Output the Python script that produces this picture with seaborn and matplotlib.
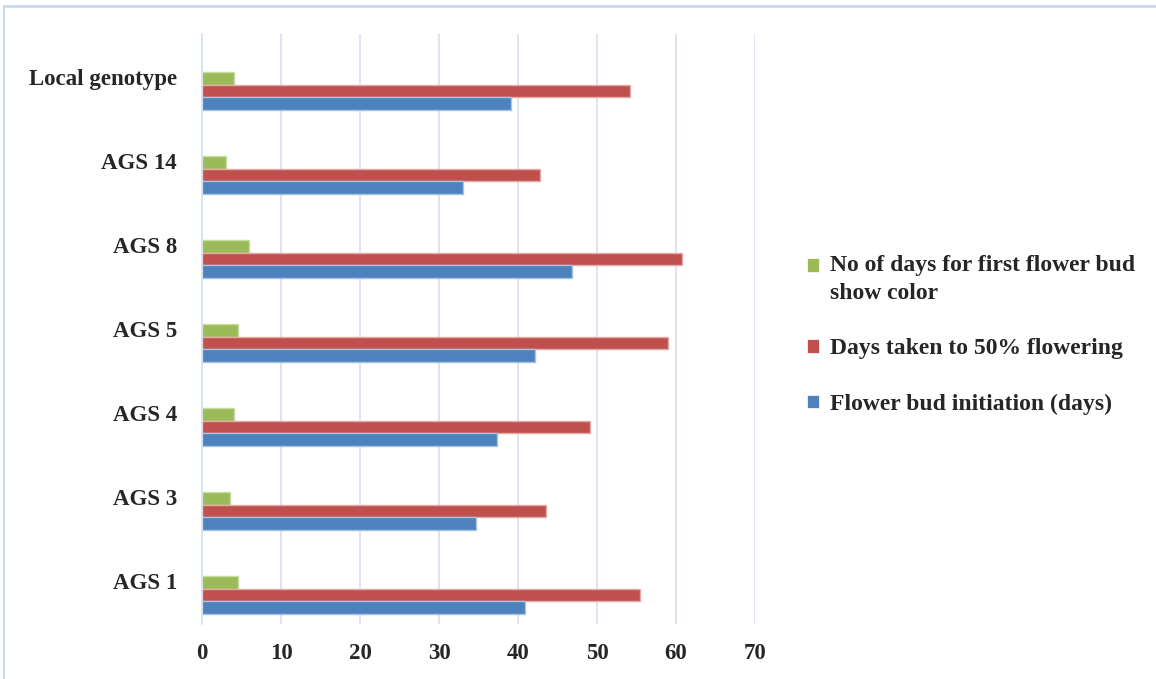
import numpy as np
import pandas as pd
import matplotlib
matplotlib.use("Agg")
import matplotlib.pyplot as plt
from matplotlib.lines import Line2D
from matplotlib.patches import Patch, Rectangle
from matplotlib.legend_handler import HandlerPatch
import seaborn as sns

# Genotypes (top to bottom) and the three flowering traits
genotypes = ["Local genotype", "AGS 14", "AGS 8", "AGS 5", "AGS 4", "AGS 3", "AGS 1"]
bud_color_days = [4.0, 3.0, 6.0, 4.5, 4.0, 3.5, 4.5]
fifty_pct_flowering = [54.2, 42.8, 60.8, 59.0, 49.1, 43.6, 55.4]
bud_initiation = [39.1, 33.0, 46.8, 42.2, 37.3, 34.7, 40.9]

series_names = [
    "No of days for first flower bud\nshow color",
    "Days taken to 50% flowering",
    "Flower bud initiation (days)",
]
series_colors = ["#9BBB59", "#C0504D", "#4F81BD"]
edge_colors = ["#c6dca0", "#e6a9a7", "#a9c3e3"]
x_ticks = [0, 10, 20, 30, 40, 50, 60, 70]

df = pd.DataFrame({
    "Genotype": genotypes * 3,
    "Trait": [series_names[0]] * 7 + [series_names[1]] * 7 + [series_names[2]] * 7,
    "Days": bud_color_days + fifty_pct_flowering + bud_initiation,
})

sns.set_theme(style="white")
plt.rcParams["font.family"] = ["Liberation Serif", "DejaVu Serif"]
plt.rcParams["font.weight"] = "bold"

fig = plt.figure(figsize=(11.56, 6.79), dpi=100)
ax = fig.add_axes([202 / 1156, 55 / 679, 553 / 1156, 590 / 679])

sns.barplot(
    data=df, y="Genotype", x="Days", hue="Trait",
    order=genotypes, hue_order=series_names,
    palette=series_colors, saturation=1, orient="h", width=0.45,
    linewidth=1.0, ax=ax, legend=False,
)
for patch_group, ec in zip(ax.containers, edge_colors):
    for p in patch_group:
        p.set_edgecolor(ec)

ax.set_xlim(0, 70)
ax.set_ylim(6.345, -0.679)
ax.set_xticks(x_ticks)
ax.set_xticklabels([str(t) for t in x_ticks], fontsize=16.5, fontweight="bold")
ax.set_yticks(np.arange(len(genotypes)) - 0.17)
ax.set_yticklabels(genotypes, fontsize=16.5, fontweight="bold")
ax.tick_params(axis="x", length=0, pad=14)
ax.tick_params(axis="y", length=0, pad=18)
ax.set_xlabel("")
ax.set_ylabel("")

ax.xaxis.grid(True, color="#d6e2f1", linewidth=1.2)
ax.yaxis.grid(False)
ax.set_axisbelow(True)
for side in ["top", "right", "bottom"]:
    ax.spines[side].set_visible(False)
ax.spines["left"].set_color("#d6e2f1")
ax.spines["left"].set_linewidth(1.2)


def first_line_square(legend, orig_handle, xdescent, ydescent, width, height, fontsize):
    # Key square sits beside the first line of a two-line label
    return Rectangle((-xdescent, -ydescent + 10.2), width, height)


handles = [Patch(facecolor=c, edgecolor="white", linewidth=0.5) for c in series_colors]
leg = fig.legend(
    handles, series_names, loc="upper left",
    bbox_to_anchor=(795 / 1156, 1 - 243 / 679),
    frameon=False, prop={"family": "Liberation Serif", "weight": "bold", "size": 17},
    handlelength=0.5, handleheight=0.5, handletextpad=0.5,
    labelspacing=1.45, borderpad=0,
    handler_map={handles[0]: HandlerPatch(patch_func=first_line_square)},
)
leg.get_texts()[0].set_linespacing(1.45)

# Light outer frame of the chart area
frame_color = "#c9daee"
fig.add_artist(Line2D([4 / 1156, 1.0], [1 - 6 / 679, 1 - 6 / 679],
                      transform=fig.transFigure, color=frame_color, linewidth=2))
fig.add_artist(Line2D([4 / 1156, 4 / 1156], [0.0, 1 - 6 / 679],
                      transform=fig.transFigure, color=frame_color, linewidth=1.5))

fig.savefig("out.png", dpi=100, facecolor="white")
